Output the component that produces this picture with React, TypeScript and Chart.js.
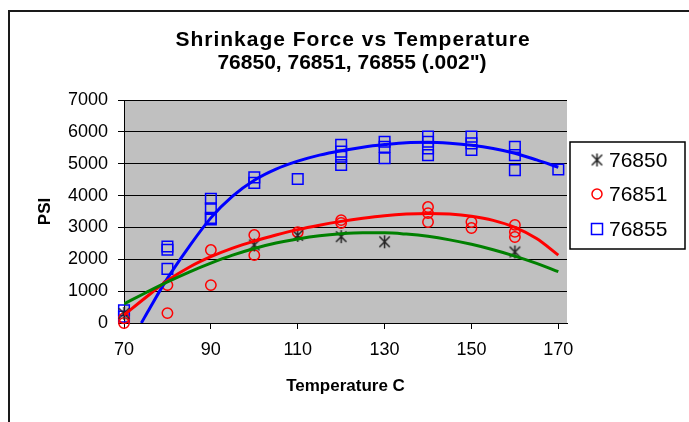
import { useEffect, useRef } from "react";
import { Chart, registerables } from "chart.js";

Chart.register(...registerables);

const FONT = "'Liberation Sans', Arial, sans-serif";

const chartTitle = "Shrinkage Force vs Temperature";
const chartSubtitle = "76850, 76851, 76855 (.002\")";
const xAxisTitle = "Temperature C";
const yAxisTitle = "PSI";

const xTicks = [70, 90, 110, 130, 150, 170];
const yTicks = [0, 1000, 2000, 3000, 4000, 5000, 6000, 7000];

const seriesNames = ["76850", "76851", "76855"];

// measured points
const s76850X = [70, 100, 110, 120, 130, 160];
const s76850Y = [300, 2450, 2750, 2710, 2550, 2230];

const s76851X = [70, 70, 80, 80, 90, 90, 100, 100, 110, 120, 120, 140, 140, 140, 150, 150, 160, 160, 160];
const s76851Y = [0, 150, 1190, 310, 2290, 1190, 2760, 2130, 2850, 3230, 3140, 3640, 3450, 3170, 3170, 2980, 3080, 2860, 2700];

const s76855X = [70, 70, 80, 80, 80, 90, 90, 90, 90, 100, 100, 110, 120, 120, 120, 120, 130, 130, 130, 140, 140, 140, 140, 150, 150, 150, 160, 160, 160, 170];
const s76855Y = [200, 400, 2400, 2300, 1700, 3900, 3600, 3300, 3250, 4570, 4400, 4520, 5590, 5380, 5220, 4960, 5690, 5530, 5170, 5850, 5690, 5480, 5270, 5850, 5640, 5430, 5530, 5270, 4800, 4820];

// trend lines
const trendX = [70, 75, 80, 85, 90, 95, 100, 105, 110, 115, 120, 125, 130, 135, 140, 145, 150, 155, 160, 165, 170];
const trend76850 = [600, 950, 1290, 1600, 1880, 2130, 2340, 2510, 2640, 2740, 2800, 2830, 2830, 2790, 2720, 2610, 2470, 2300, 2100, 1870, 1610];
const trend76851 = [250, 800, 1330, 1750, 2080, 2350, 2570, 2760, 2930, 3070, 3190, 3290, 3370, 3420, 3440, 3420, 3350, 3220, 3000, 2650, 2130];
const trend76855X = [74, 76, 80, 85, 90, 95, 100, 105, 110, 115, 120, 125, 130, 135, 140, 145, 150, 155, 160, 165, 170];
const trend76855 = [0, 480, 1400, 2400, 3300, 3980, 4480, 4830, 5080, 5270, 5410, 5520, 5600, 5660, 5670, 5640, 5580, 5480, 5330, 5120, 4890];

const zip = (xs: number[], ys: number[]) => xs.map((x, i) => ({ x, y: ys[i] }));

function makeAsterisk(size: number, color: string, lw: number) {
  const c = document.createElement("canvas");
  c.width = size;
  c.height = size;
  const g = c.getContext("2d")!;
  g.strokeStyle = color;
  g.lineWidth = lw;
  const h = size / 2;
  const r = size / 2 - 1;
  const d = r * 0.8;
  g.beginPath();
  g.moveTo(h - d, h - d);
  g.lineTo(h + d, h + d);
  g.moveTo(h + d, h - d);
  g.lineTo(h - d, h + d);
  g.moveTo(h, h - r);
  g.lineTo(h, h + r);
  g.stroke();
  return c;
}

export default function App() {
  const ref = useRef<HTMLCanvasElement | null>(null);

  useEffect(() => {
    const canvas = ref.current;
    if (!canvas) return;
    const asterisk = makeAsterisk(15, "#222222", 1.5);

    const colors = ["#222222", "#FF0000", "#0000FF"];

    const decor = {
      id: "decor",
      beforeDraw(chart: any) {
        const { ctx, chartArea } = chart;
        ctx.save();
        ctx.fillStyle = "#C0C0C0";
        ctx.fillRect(chartArea.left, chartArea.top, chartArea.right - chartArea.left, chartArea.bottom - chartArea.top);
        ctx.restore();
      },
      afterDraw(chart: any) {
        const { ctx } = chart;
        ctx.save();
        // outer frame
        ctx.fillStyle = "#1a1a1a";
        ctx.fillRect(8, 10, 2, 422);
        ctx.fillRect(8, 10, 700, 2);
        // titles
        ctx.fillStyle = "#000";
        ctx.textAlign = "center";
        ctx.textBaseline = "middle";
        ctx.font = `bold 21px ${FONT}`;
        (ctx as any).letterSpacing = "1px";
        ctx.fillText(chartTitle, 353, 40);
        (ctx as any).letterSpacing = "0px";
        ctx.fillText(chartSubtitle, 352, 63);
        // legend
        const lx = 570, ly = 142, lw = 115, lh = 107;
        ctx.fillStyle = "#fff";
        ctx.fillRect(lx, ly, lw, lh);
        ctx.strokeStyle = "#000";
        ctx.lineWidth = 1.5;
        ctx.strokeRect(lx, ly, lw, lh);
        const rows = [160, 194, 229];
        ctx.font = `21px ${FONT}`;
        ctx.textAlign = "left";
        ctx.textBaseline = "middle";
        rows.forEach((y, i) => {
          const mx = 597;
          if (i === 0) {
            ctx.drawImage(asterisk, mx - asterisk.width / 2, y - asterisk.height / 2);
          } else if (i === 1) {
            ctx.strokeStyle = colors[1];
            ctx.lineWidth = 1.5;
            ctx.beginPath();
            ctx.arc(mx, y, 5, 0, Math.PI * 2);
            ctx.stroke();
          } else {
            ctx.strokeStyle = colors[2];
            ctx.lineWidth = 1.5;
            ctx.strokeRect(mx - 5.5, y - 5.5, 11, 11);
          }
          ctx.fillStyle = "#000";
          ctx.fillText(seriesNames[i], 609, y + 1);
        });
        ctx.restore();
      },
    };

    const chart = new Chart(canvas, {
      type: "scatter",
      data: {
        datasets: [
          {
            label: seriesNames[0] + " trend",
            data: zip(trendX, trend76850),
            showLine: true,
            borderColor: "#008000",
            borderWidth: 3,
            pointRadius: 0,
            cubicInterpolationMode: "monotone",
            order: 0,
          },
          {
            label: seriesNames[1] + " trend",
            data: zip(trendX, trend76851),
            showLine: true,
            borderColor: "#FF0000",
            borderWidth: 3,
            pointRadius: 0,
            cubicInterpolationMode: "monotone",
            order: 0,
          },
          {
            label: seriesNames[2] + " trend",
            data: zip(trend76855X, trend76855),
            showLine: true,
            borderColor: "#0000FF",
            borderWidth: 3,
            pointRadius: 0,
            cubicInterpolationMode: "monotone",
            order: 0,
          },
          {
            label: seriesNames[0],
            data: zip(s76850X, s76850Y),
            pointStyle: asterisk as any,
            pointRadius: 7,
            borderColor: colors[0],
            clip: false as any,
            order: 1,
          },
          {
            label: seriesNames[1],
            data: zip(s76851X, s76851Y),
            pointStyle: "circle",
            pointRadius: 5.2,
            borderWidth: 1.5,
            borderColor: colors[1],
            backgroundColor: "rgba(0,0,0,0)",
            clip: false as any,
            order: 1,
          },
          {
            label: seriesNames[2],
            data: zip(s76855X, s76855Y),
            pointStyle: "rect",
            pointRadius: 7.5,
            borderWidth: 1.5,
            borderColor: colors[2],
            backgroundColor: "rgba(0,0,0,0)",
            clip: false as any,
            order: 1,
          },
        ],
      },
      options: {
        animation: false,
        responsive: false,
        layout: { padding: { left: 0, top: 100, right: 122, bottom: 0 } },
        plugins: {
          legend: { display: false },
          tooltip: { enabled: false },
          title: { display: false },
        },
        scales: {
          x: {
            type: "linear",
            min: 70,
            max: 172,
            afterBuildTicks: (s: any) => {
              s.ticks = xTicks.map((v) => ({ value: v }));
            },
            afterFit: (s: any) => {
              s.height = 99;
            },
            grid: { drawOnChartArea: false, color: "#000", tickLength: 6 },
            border: { color: "#000", width: 1 },
            ticks: {
              color: "#000",
              font: { family: FONT, size: 18 },
              padding: 10,
              autoSkip: false,
              maxRotation: 0,
              callback: (v: any) => String(v),
            },
            title: {
              display: true,
              text: xAxisTitle,
              color: "#000",
              font: { family: FONT, size: 17, weight: "bold" },
              padding: { top: 0, bottom: 25 },
            },
          },
          y: {
            type: "linear",
            min: 0,
            max: 7000,
            afterBuildTicks: (s: any) => {
              s.ticks = yTicks.map((v) => ({ value: v }));
            },
            afterFit: (s: any) => {
              s.width = 124;
            },
            grid: { color: "#000", tickLength: 6 },
            border: { color: "#000", width: 1 },
            ticks: {
              color: "#000",
              font: { family: FONT, size: 18 },
              padding: 10,
              callback: (v: any) => String(v),
            },
            title: {
              display: true,
              text: yAxisTitle,
              color: "#000",
              font: { family: FONT, size: 17, weight: "bold" },
              padding: { top: 35, bottom: 0 },
            },
          },
        },
      },
      plugins: [decor],
    } as any);

    return () => chart.destroy();
  }, []);

  return (
    <div style={{ position: "fixed", left: 0, top: 0, width: 689, height: 422 }}>
      <canvas ref={ref} width={689} height={422} style={{ width: 689, height: 422, display: "block" }} />
    </div>
  );
}
